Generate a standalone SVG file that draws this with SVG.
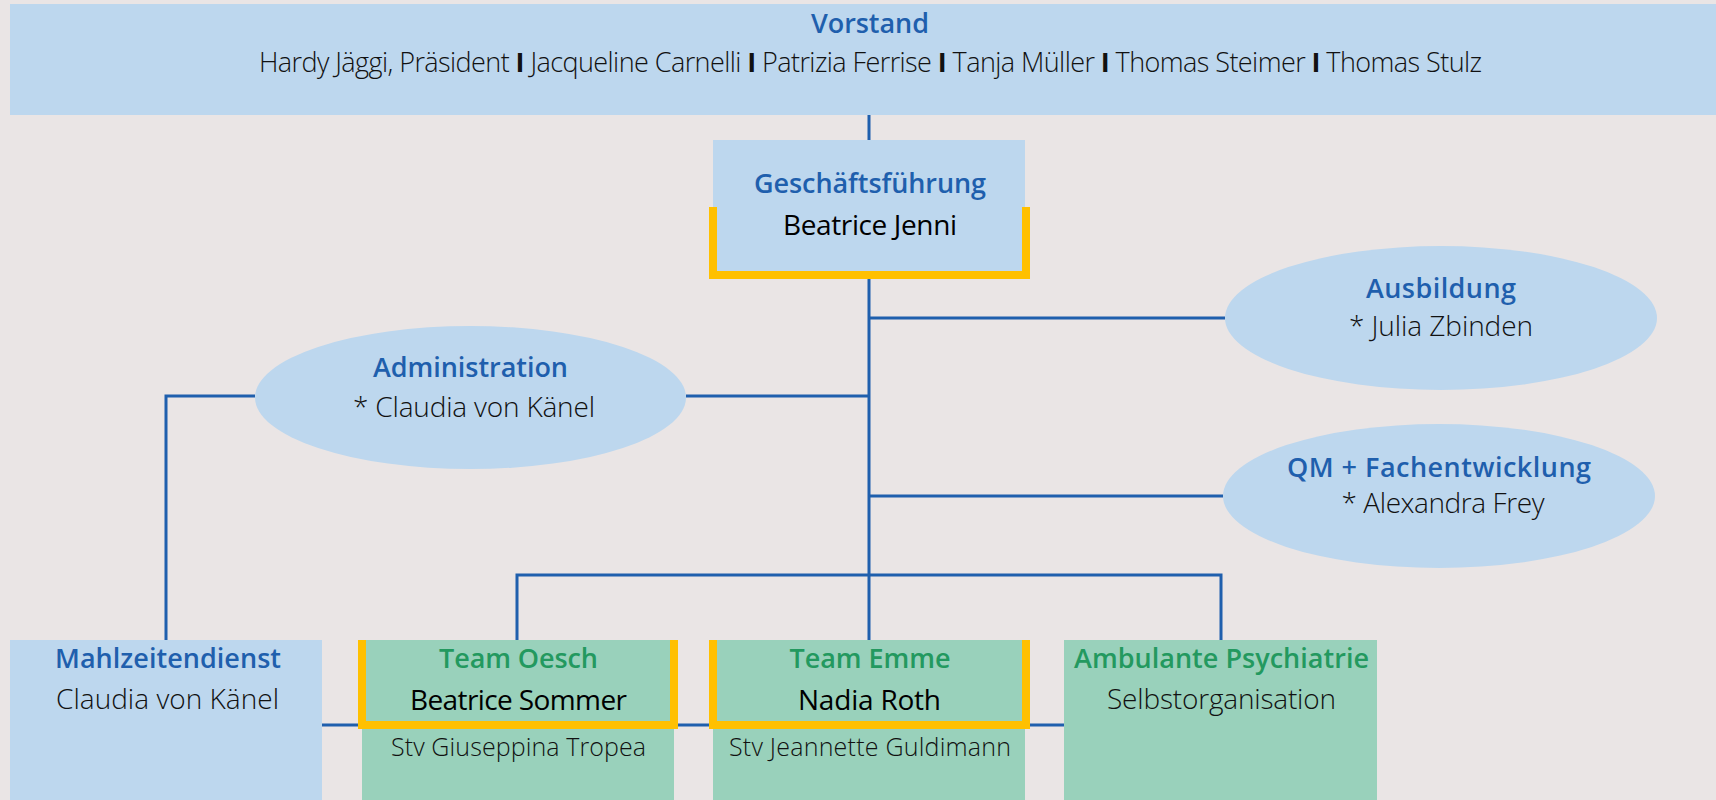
<svg xmlns="http://www.w3.org/2000/svg" width="1716" height="800" viewBox="0 0 1716 800">
<style>
.bg{fill:#EAE5E5}
.lb{fill:#BDD7EE}
.gr{fill:#99D1BB}
.yl{fill:none;stroke:#FFC000;stroke-width:8}
.ln{fill:none;stroke:#1F5FAD;stroke-width:3}
text{font-family:"Open Sans","Noto Sans","Liberation Sans",sans-serif;text-anchor:middle}
.hb{fill:#1F5FAD;font-weight:600;font-size:27px}
.hg{fill:#23995F;font-weight:600;font-size:27px}
.lt{fill:#111;font-weight:300;font-size:28px}
.nm{fill:#000;font-weight:400;font-size:28px}
.sm{fill:#111;font-weight:300;font-size:25px}
.mb{fill:#111;font-weight:300;font-size:27px}
</style>
<rect class="bg" x="0" y="0" width="1716" height="800"/>
<g id="connectors">
<path class="ln" d="M869,115 V140 M869,279 V640 M869,318 H1225 M869,496 H1223 M686,396 H869 M255,396 H166 V640 M517,640 V575 H1221 V640 M322,725 H1064"/>
</g>
<g id="vorstand">
<rect class="lb" x="10" y="4" width="1706" height="111"/>
<text class="hb" x="870" y="33" textLength="118">Vorstand</text>
<text class="mb" x="870.5" y="72" textLength="1223">Hardy Jäggi, Präsident <tspan font-weight="700">I</tspan> Jacqueline Carnelli <tspan font-weight="700">I</tspan> Patrizia Ferrise <tspan font-weight="700">I</tspan> Tanja Müller <tspan font-weight="700">I</tspan> Thomas Steimer <tspan font-weight="700">I</tspan> Thomas Stulz</text>
</g>
<g id="geschaeftsfuehrung">
<rect class="lb" x="713" y="140" width="312" height="135"/>
<path class="yl" d="M713,207 V275 H1026 V207"/>
<text class="hb" x="870" y="193" textLength="232">Geschäftsführung</text>
<text class="nm" x="870" y="235" textLength="174">Beatrice Jenni</text>
</g>
<g id="ausbildung">
<ellipse class="lb" cx="1441" cy="318" rx="216" ry="72"/>
<text class="hb" x="1441" y="298" textLength="150">Ausbildung</text>
<text class="lt" x="1441" y="336" textLength="184">* Julia Zbinden</text>
</g>
<g id="qm">
<ellipse class="lb" cx="1439" cy="496" rx="216" ry="72"/>
<text class="hb" x="1439" y="477" textLength="304">QM + Fachentwicklung</text>
<text class="lt" x="1443" y="513" textLength="203">* Alexandra Frey</text>
</g>
<g id="administration">
<ellipse class="lb" cx="470.5" cy="397.5" rx="215.5" ry="71.5"/>
<text class="hb" x="470.5" y="377" textLength="195">Administration</text>
<text class="lt" x="474" y="417" textLength="242">* Claudia von Känel</text>
</g>
<g id="mahlzeitendienst">
<rect class="lb" x="10" y="640" width="312" height="160"/>
<text class="hb" x="168" y="668" textLength="226">Mahlzeitendienst</text>
<text class="lt" x="167.5" y="709" textLength="223">Claudia von Känel</text>
</g>
<g id="team-oesch">
<rect class="gr" x="362" y="640" width="312" height="160"/>
<path class="yl" d="M362,640 V725 H674 V640"/>
<text class="hg" x="518.5" y="668" textLength="159">Team Oesch</text>
<text class="nm" x="518.5" y="710" textLength="217">Beatrice Sommer</text>
<text class="sm" x="518.5" y="756" textLength="255">Stv Giuseppina Tropea</text>
</g>
<g id="team-emme">
<rect class="gr" x="713" y="640" width="312" height="160"/>
<path class="yl" d="M713,640 V725 H1026 V640"/>
<text class="hg" x="870" y="668" textLength="161">Team Emme</text>
<text class="nm" x="869.5" y="710" textLength="143">Nadia Roth</text>
<text class="sm" x="870" y="756" textLength="282">Stv Jeannette Guldimann</text>
</g>
<g id="ambulante-psychiatrie">
<rect class="gr" x="1064" y="640" width="313" height="160"/>
<text class="hg" x="1221.5" y="668" textLength="295">Ambulante Psychiatrie</text>
<text class="lt" x="1221.5" y="709" textLength="229">Selbstorganisation</text>
</g>
</svg>
